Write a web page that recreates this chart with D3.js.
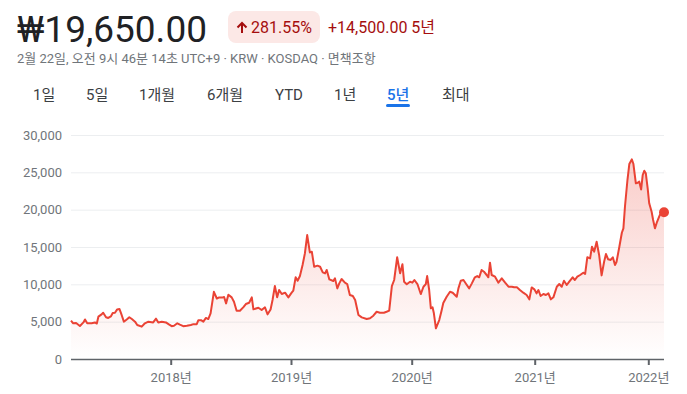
<!DOCTYPE html>
<html>
<head>
<meta charset="utf-8">
<script src="https://cdn.jsdelivr.net/npm/d3@7"></script>
<style>
  body { margin: 0; background: #fff; }
  svg text { font-family: Roboto, "Noto Sans CJK KR", sans-serif; }
</style>
</head>
<body>
<div id="chart"></div>
<script>
// weekly-ish closes (KRW)
const priceDates = [
  "2017-02-22","2017-03-01","2017-03-10","2017-03-22","2017-04-02","2017-04-07","2017-04-14","2017-04-28",
  "2017-05-08","2017-05-14","2017-05-19","2017-05-29","2017-06-03","2017-06-12","2017-06-19","2017-06-27",
  "2017-07-03","2017-07-10","2017-07-17","2017-07-24","2017-07-31","2017-08-07","2017-08-16","2017-08-24",
  "2017-09-01","2017-09-11","2017-09-18","2017-10-02","2017-10-12","2017-10-23","2017-11-07","2017-11-16",
  "2017-11-23","2017-12-04","2017-12-17","2017-12-25",
  "2018-01-04","2018-01-11","2018-01-21","2018-01-29","2018-02-08","2018-02-19","2018-03-03","2018-03-11",
  "2018-03-21","2018-03-26","2018-04-03","2018-04-10","2018-04-18","2018-04-25","2018-05-02","2018-05-12",
  "2018-05-21","2018-05-28","2018-06-08","2018-06-12","2018-06-18","2018-06-25","2018-07-05","2018-07-12",
  "2018-07-20","2018-07-30","2018-08-09","2018-08-17","2018-08-27","2018-09-04","2018-09-09","2018-09-24",
  "2018-10-04","2018-10-14","2018-10-22","2018-10-31","2018-11-06","2018-11-13","2018-11-20","2018-11-26",
  "2018-12-04","2018-12-14","2018-12-24",
  "2019-01-03","2019-01-08","2019-01-15","2019-01-21","2019-01-28","2019-02-05","2019-02-12","2019-02-19",
  "2019-02-27","2019-03-05","2019-03-12","2019-03-22","2019-03-30","2019-04-07","2019-04-14","2019-04-19",
  "2019-04-27","2019-05-09","2019-05-14","2019-05-21","2019-05-27","2019-06-03","2019-06-13","2019-06-20",
  "2019-06-28","2019-07-07","2019-07-14","2019-07-24","2019-08-03","2019-08-18","2019-08-28","2019-09-07",
  "2019-09-17","2019-09-27","2019-10-09","2019-10-17","2019-10-25","2019-11-02","2019-11-09","2019-11-18",
  "2019-11-27","2019-12-04","2019-12-09","2019-12-17","2019-12-27",
  "2020-01-03","2020-01-09","2020-01-18","2020-01-28","2020-02-05","2020-02-12","2020-02-16","2020-02-22",
  "2020-02-27","2020-03-03","2020-03-07","2020-03-13","2020-03-23","2020-03-30","2020-04-04","2020-04-14",
  "2020-04-24","2020-05-02","2020-05-14","2020-05-19","2020-05-26","2020-06-03","2020-06-11","2020-06-20",
  "2020-06-28","2020-07-07","2020-07-14","2020-07-20","2020-07-27","2020-08-03","2020-08-11","2020-08-16",
  "2020-08-21","2020-08-26","2020-09-05","2020-09-15","2020-09-25","2020-10-05","2020-10-15","2020-10-25",
  "2020-11-01","2020-11-09","2020-11-18","2020-11-28","2020-12-08","2020-12-16","2020-12-23","2020-12-31",
  "2021-01-07","2021-01-13","2021-01-20","2021-01-29","2021-02-06","2021-02-14","2021-02-22","2021-03-02",
  "2021-03-13","2021-03-21","2021-03-29","2021-04-05","2021-04-14","2021-04-22","2021-05-03","2021-05-10",
  "2021-05-18","2021-05-27","2021-06-06","2021-06-12","2021-06-19","2021-06-28","2021-07-04","2021-07-11",
  "2021-07-19","2021-07-27","2021-08-04","2021-08-12","2021-08-18","2021-08-25","2021-09-02","2021-09-09",
  "2021-09-16","2021-09-21","2021-09-30","2021-10-08","2021-10-13","2021-10-18","2021-10-26","2021-11-01",
  "2021-11-09","2021-11-14","2021-11-22","2021-11-28","2021-12-03","2021-12-09","2021-12-14","2021-12-19",
  "2021-12-24","2021-12-30",
  "2022-01-04","2022-01-12","2022-01-17","2022-01-23","2022-01-30","2022-02-08","2022-02-17","2022-02-22"
];
const prices = [
  5150,4780,4830,4420,4900,5300,4800,4800,
  4900,4750,5670,5980,6200,5600,5500,5700,
  6150,6200,6640,6700,5900,5000,5300,5600,
  5350,5000,4550,4330,4780,5000,4900,5400,
  4900,5000,4900,4670,
  4400,4450,4780,4600,4400,4450,4550,4670,
  4670,5200,5200,5000,5500,5350,6100,9000,
  8100,8250,8250,8300,7450,8600,8250,7670,
  6470,6470,6920,7360,7540,8260,6650,6870,
  6560,6920,5980,6640,7900,9770,8260,9240,
  8700,8880,8260,
  8880,9150,10940,10480,11110,12590,14140,16600,
  14280,14370,12360,12500,12360,11600,11470,11920,
  10660,10440,10800,9460,10130,10710,10220,10040,
  8570,8430,7900,5890,5580,5360,5450,5800,
  6330,6200,6200,6330,6470,9770,10580,13620,
  11470,12680,10350,10000,10350,
  10220,10580,10040,8700,9680,10040,11110,9240,
  6790,6920,6120,4110,5220,6500,7500,8340,
  9000,8880,8340,9460,10480,10580,10040,9460,
  10130,10940,11110,10940,11920,11690,11250,10940,
  12900,11250,11020,10220,10800,10220,9680,9680,
  9600,9600,9240,8880,8570,7990,9590,9330,
  8790,9240,8440,8700,8570,8790,7990,8260,
  9680,10040,9680,10480,9910,10350,10940,10580,
  11020,11250,11560,11380,13620,13480,15040,14370,
  15710,13930,11200,13030,14060,13350,13260,13620,
  12590,13030,15040,16910,17500,20390,23970,26110,
  26730,26150,23530,23610,23750,22710,24640,25210,
  24860,22860,
  20850,19720,18610,17500,18380,19280,19720,19650
];

const yTicks = [0, 5000, 10000, 15000, 20000, 25000, 30000];
const yearTicks = ["2018-01-01", "2019-01-01", "2020-01-01", "2021-01-01", "2022-01-01"];
const tabLabels = ["1일", "5일", "1개월", "6개월", "YTD", "1년", "5년", "최대"];
const activeTab = "5년";

const price = "₩19,650.00";
const changePct = "281.55%";
const changeAbs = "+14,500.00 5년";
const subLine = "2월 22일, 오전 9시 46분 14초 UTC+9 · KRW · KOSDAQ · 면책조항";

const width = 687, height = 394;
const red = "#ea4335";
const parse = d3.timeParse("%Y-%m-%d");

const data = priceDates.map((d, i) => ({ date: parse(d), value: prices[i] }));

const svg = d3.select("#chart").append("svg")
  .attr("width", width)
  .attr("height", height);

// ---- header ----
svg.append("text")
  .attr("x", 17).attr("y", 42)
  .attr("font-size", 37)
  .attr("fill", "#202124")
  .text(price);

svg.append("rect")
  .attr("x", 228).attr("y", 11)
  .attr("width", 92).attr("height", 32)
  .attr("rx", 8)
  .attr("fill", "#fce8e6");

// little up arrow inside the badge
svg.append("path")
  .attr("d", "M242,23 L242,33 M237.5,27.5 L242,23 L246.5,27.5")
  .attr("stroke", "#a50e0e")
  .attr("stroke-width", 2)
  .attr("fill", "none");

svg.append("text")
  .attr("x", 251).attr("y", 33)
  .attr("font-size", 16)
  .attr("fill", "#a50e0e")
  .text(changePct);

svg.append("text")
  .attr("x", 328).attr("y", 33)
  .attr("font-size", 16)
  .attr("fill", "#a50e0e")
  .text(changeAbs);

svg.append("text")
  .attr("x", 17).attr("y", 63)
  .attr("font-size", 13)
  .attr("fill", "#70757a")
  .text(subLine);

// tabs
const tabX = [33, 86, 139, 207, 275, 334, 387, 442];
const tabs = svg.append("g");
tabLabels.forEach((t, i) => {
  tabs.append("text")
    .attr("x", tabX[i]).attr("y", 100)
    .attr("font-size", 15)
    .attr("font-weight", t === activeTab ? 500 : 400)
    .attr("fill", t === activeTab ? "#1a73e8" : "#3c4043")
    .text(t);
});
svg.append("rect")
  .attr("x", 386).attr("y", 104)
  .attr("width", 24).attr("height", 3)
  .attr("rx", 1.5)
  .attr("fill", "#1a73e8");

// ---- chart ----
const plotLeft = 71, plotRight = 664, plotTop = 135, plotBottom = 359;

// year ticks on the reference are not quite evenly spaced, so use a piecewise time scale
const x = d3.scaleTime()
  .domain([data[0].date].concat(yearTicks.map(parse), [data[data.length - 1].date]))
  .range([plotLeft, 170.7, 291, 411.7, 534.7, 648.3, plotRight]);

const y = d3.scaleLinear()
  .domain([0, 30000])
  .range([plotBottom, plotTop]);

const defs = svg.append("defs");
const grad = defs.append("linearGradient")
  .attr("id", "fade")
  .attr("gradientUnits", "userSpaceOnUse")
  .attr("x1", 0).attr("x2", 0)
  .attr("y1", plotTop).attr("y2", plotBottom);
grad.append("stop").attr("offset", 0).attr("stop-color", red).attr("stop-opacity", 0.3);
grad.append("stop").attr("offset", 1).attr("stop-color", red).attr("stop-opacity", 0);

// gridlines + y labels
const yAxis = svg.append("g")
  .attr("transform", `translate(${plotLeft},0)`)
  .call(d3.axisLeft(y).tickValues(yTicks).tickSize(-(plotRight - plotLeft)).tickFormat(d3.format(",")).tickPadding(9));
yAxis.select(".domain").remove();
yAxis.selectAll(".tick line")
  .attr("stroke", "#eceef0")
  .attr("stroke-width", 1);
yAxis.selectAll(".tick text")
  .attr("font-size", 13)
  .attr("fill", "#70757a");
yAxis.selectAll(".tick").filter(d => d === 0).select("line").remove();

// area + line
svg.append("path")
  .datum(data)
  .attr("fill", "url(#fade)")
  .attr("d", d3.area().x(d => x(d.date)).y0(plotBottom).y1(d => y(d.value)));

svg.append("path")
  .datum(data)
  .attr("fill", "none")
  .attr("stroke", red)
  .attr("stroke-width", 2)
  .attr("stroke-linejoin", "round")
  .attr("d", d3.line().x(d => x(d.date)).y(d => y(d.value)));

// x axis
const xAxis = svg.append("g")
  .attr("transform", `translate(0,${plotBottom})`)
  .call(d3.axisBottom(x).tickValues(yearTicks.map(parse)).tickSize(6).tickPadding(8)
    .tickFormat(d => d3.timeFormat("%Y")(d) + "년"));
xAxis.select(".domain")
  .attr("d", `M${plotLeft},0.5H${plotRight}`)
  .attr("stroke", "#5f6368")
  .attr("stroke-width", 1.5);
xAxis.selectAll(".tick line")
  .attr("stroke", "#5f6368")
  .attr("stroke-width", 2);
xAxis.selectAll(".tick text")
  .attr("font-size", 13)
  .attr("fill", "#70757a");

// last price dot
const last = data[data.length - 1];
svg.append("circle")
  .attr("cx", x(last.date))
  .attr("cy", y(last.value))
  .attr("r", 5)
  .attr("fill", red);
</script>
</body>
</html>
